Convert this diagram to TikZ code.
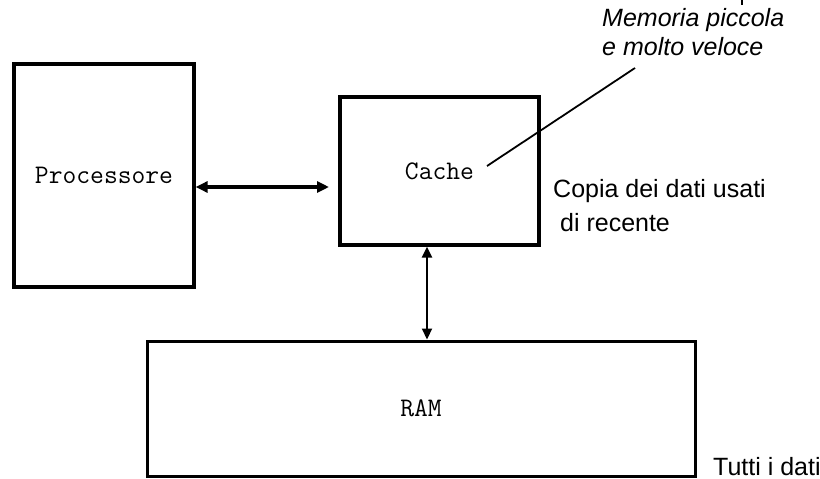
\documentclass[tikz,border=0pt]{standalone}
\usepackage{fontspec}
\setmainfont{Liberation Sans}
\usetikzlibrary{arrows.meta}
\begin{document}
\begin{tikzpicture}[x=1pt,y=-1pt,
  unit/.style={draw, line width=3.3pt, inner sep=0pt, font=\ttfamily\fontsize{26.8}{27}\selectfont},
  note/.style={inner sep=0pt, anchor=base west, font=\fontsize{25}{30}\selectfont},
  bus/.style={line width=3.3pt, {Triangle[length=12pt,width=11pt]}-{Triangle[length=12pt,width=11pt]}},
  link/.style={line width=2.2pt, {Triangle[length=11pt,width=10pt]}-{Triangle[length=11pt,width=10pt]}},
  leader/.style={line width=1.8pt}]
\useasboundingbox (0,0) rectangle (820,479);

% the three memory levels
\node[unit, minimum width=180pt, minimum height=223pt] (cpu) at (104,175.5) {Processore};
\node[unit, minimum width=199pt, minimum height=148pt] (cache) at (439.5,171) {Cache};
\node[unit, line width=3pt, minimum width=548pt, minimum height=135pt] (ram) at (421,408.5) {RAM};

% data paths
\coordinate (busL) at (cpu.east |- 0,187);
\coordinate (busR) at (329,187);
\draw[bus] (busL) -- (busR);
\coordinate (linkT) at (427,0 |- cache.south);
\coordinate (linkB) at (427,0 |- ram.north);
\draw[link] (linkT) -- (linkB);

% annotations
\node[note, font=\itshape\fontsize{25}{30}\selectfont] (speed1) at (602,27) {Memoria piccola};
\node[note, font=\itshape\fontsize{25}{30}\selectfont] (speed2) at (602,56) {e molto veloce};
\coordinate (leadA) at (487,166);
\coordinate (leadB) at (635,68);
\draw[leader] (leadA) -- (leadB);
\coordinate (tickA) at (742,0);
\coordinate (tickB) at (742,5);
\draw[leader] (tickA) -- (tickB);

\node[note] (copy1) at (553,197) {Copia dei dati usati};
\node[note] (copy2) at (553,231) {\ di recente};
\node[note] (all) at (713,475) {Tutti i dati};
\end{tikzpicture}
\end{document}
